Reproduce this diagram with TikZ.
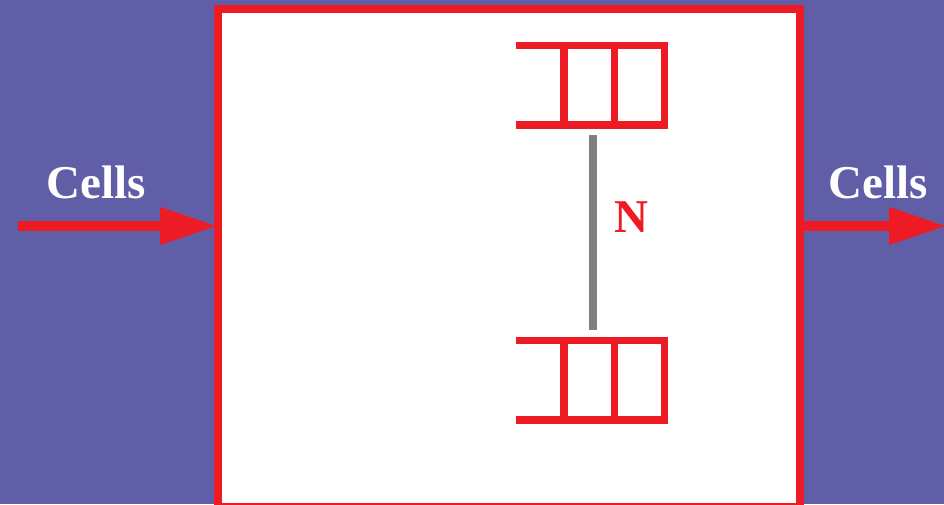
\documentclass[tikz,border=0pt]{standalone}
\usepackage{fontspec}
\setmainfont{Liberation Serif}
\usetikzlibrary{arrows.meta, positioning}
\definecolor{bgpurple}{RGB}{97,94,168}
\definecolor{cellred}{RGB}{237,28,36}
\definecolor{linkgray}{RGB}{128,128,128}

\tikzset{
  label text/.style={inner sep=0pt, anchor=base, font=\bfseries\fontsize{47}{47}\selectfont},
  flow/.style={cellred, line width=10pt, -{Triangle[length=58pt, width=35pt]}},
  queue line/.style={cellred, line width=7.5pt, line join=miter}
}

\begin{document}
\begin{tikzpicture}[x=1pt, y=-1pt]
      \fill [bgpurple] (0,0) rectangle (944,504);
      \useasboundingbox (0,0) rectangle (944,504);

      % switch box
      \node [draw=cellred, line width=8pt, fill=white, inner sep=0pt, outer sep=0pt,
             minimum width=582pt, minimum height=498pt, anchor=north west] (switch) at (218,9) {};

      % two cell queues
      \foreach \qy/\qn in {45.5/qtop, 340.5/qbot} {
        \draw [queue line] (516,\qy) -- (664.5,\qy) -- (664.5,\qy+79.5) -- (516,\qy+79.5);
        \draw [queue line] (564,\qy) -- (564,\qy+79.5);
        \draw [queue line] (614.5,\qy) -- (614.5,\qy+79.5);
      }
      \coordinate (qtop-link) at (592.5,135);
      \coordinate (qbot-link) at (592.5,330);
      \draw [linkgray, line width=8pt] (qtop-link) -- (qbot-link);
      \node [label text, text=cellred] (n) at (631.5,232) {N};

      % input and output cells
      \coordinate (cells-in) at (18,226);
      \coordinate (cells-out) at (947,226);
      \coordinate (switch-in) at (218,226);
      \coordinate (switch-out) at (800,226);
      \draw [flow] (cells-in) -- (switch-in);
      \draw [flow] (switch-out) -- (cells-out);
      \node [label text, text=white] (in-label) at (96.5,198) {Cells};
      \node [label text, text=white] (out-label) at (878.5,198) {Cells};
\end{tikzpicture}
\end{document}
